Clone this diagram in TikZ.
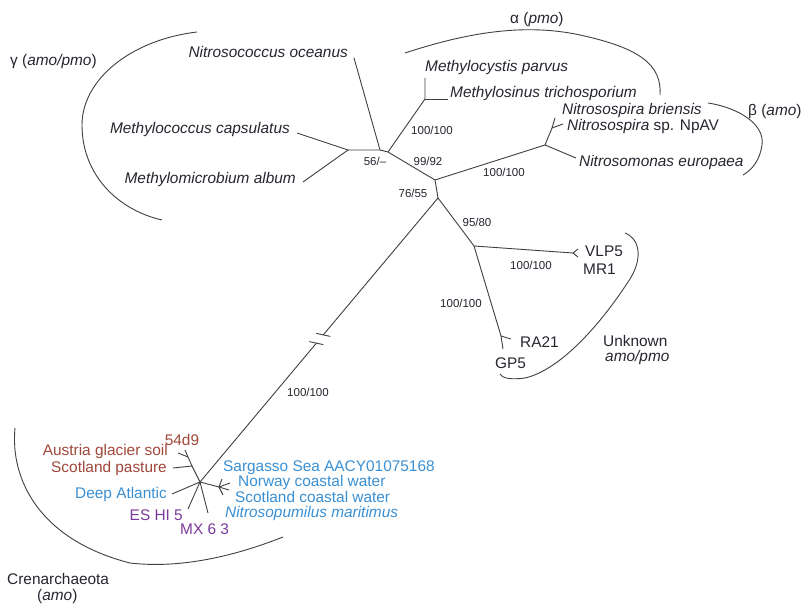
\documentclass[tikz,border=0pt]{standalone}
\usepackage{fontspec}
\setmainfont{Liberation Sans}
\usetikzlibrary{calc}
\definecolor{tc}{HTML}{262630}
\definecolor{lc}{HTML}{404040}
\definecolor{brn}{HTML}{A0483A}
\definecolor{blu}{HTML}{3A90D4}
\definecolor{pur}{HTML}{7A3A9A}
\begin{document}
\begin{tikzpicture}[x=1pt,y=-1pt,
  lbl/.style={font=\fontsize{15.4}{17}\selectfont, inner sep=0pt, text=tc},
  itl/.style={lbl, font=\fontsize{15.4}{17}\selectfont\itshape},
  sup/.style={font=\fontsize{11.5}{13}\selectfont, inner sep=0pt, text=tc},
  branch/.style={draw=lc, line width=0.9pt},
  clade/.style={draw=lc, line width=0.9pt}]
\useasboundingbox[fill=white] (0,0) rectangle (803,604);

% ---------- junctions and leaf ends ----------
\coordinate (g1) at (348,150);
\coordinate (g2) at (380,150);
\coordinate (n1) at (388,152);
\coordinate (a1) at (425,99);
\coordinate (n2) at (435,180);
\coordinate (b1) at (545,145);
\coordinate (bs) at (552,128);
\coordinate (n3) at (438,198);
\coordinate (n4) at (474,246);
\coordinate (v1) at (573,253);
\coordinate (r1) at (501,336);
\coordinate (c0) at (200,482);
\coordinate (cA) at (192,466);
\coordinate (cAu) at (188,457);
\coordinate (cM) at (219,487);

\coordinate (eNo) at (354,58);
\coordinate (eMc) at (297,133);
\coordinate (eMa) at (303,182);
\coordinate (eMp) at (425,78);
\coordinate (eMt) at (448,99);
\coordinate (eNb) at (555,118);
\coordinate (eNp) at (563,124);
\coordinate (eNe) at (576,158);
\coordinate (eV1) at (578,249);
\coordinate (eV2) at (578,257);
\coordinate (eRa) at (511,339);
\coordinate (eGp) at (503,349);
\coordinate (e54) at (185,450);
\coordinate (eAu) at (178,453);
\coordinate (eSp) at (173,468);
\coordinate (eDA) at (172,494);
\coordinate (eES) at (188,509);
\coordinate (eMX) at (208,513);
\coordinate (eM1) at (222,479);
\coordinate (eM2) at (230,483);
\coordinate (eM3) at (229,490);
\coordinate (eM4) at (223,495);

\coordinate (bk1) at ($(n3)!0.482!(c0)$);
\coordinate (bk2) at ($(n3)!0.511!(c0)$);

% ---------- branches ----------
\draw[branch] (eMc) -- (g1) -- (eMa);
\draw[branch] (g1) -- (g2) -- (n1);
\draw[branch] (eNo) -- (g2);
\draw[branch] (n1) -- (a1) -- (eMp);
\draw[branch] (a1) -- (eMt);
\draw[branch] (n1) -- (n2) -- (b1) -- (eNe);
\draw[branch] (b1) -- (bs) -- (eNb);
\draw[branch] (bs) -- (eNp);
\draw[branch] (n2) -- (n3) -- (n4) -- (v1) -- (eV1);
\draw[branch] (v1) -- (eV2);
\draw[branch] (n4) -- (r1) -- (eGp);
\draw[branch] (r1) -- (eRa);
\draw[branch] (n3) -- (bk1);
\draw[branch] (bk2) -- (c0);
\draw[branch] ($(bk1)+(-7,-1.5)$) -- ($(bk1)+(7,1.5)$);
\draw[branch] ($(bk2)+(-7,-1.5)$) -- ($(bk2)+(7,1.5)$);
\draw[branch] (c0) -- (cA) -- (eSp);
\draw[branch] (cA) -- (cAu) -- (e54);
\draw[branch] (cAu) -- (eAu);
\draw[branch] (eDA) -- (c0) -- (eES);
\draw[branch] (c0) -- (eMX);
\draw[branch] (c0) -- (cM);
\draw[branch] (cM) -- (eM1);
\draw[branch] (cM) -- (eM2);
\draw[branch] (cM) -- (eM3);
\draw[branch] (cM) -- (eM4);

% ---------- clade brackets ----------
\draw[clade] (197,32) .. controls (130,40) and (82,80) .. (82,125)
  .. controls (82,175) and (118,210) .. (162,220);
\draw[clade] (405,53) .. controls (460,35) and (520,22) .. (580,35)
  .. controls (640,48) and (662,65) .. (660,95);
\draw[clade] (708,103) .. controls (740,108) and (765,125) .. (762,145)
  .. controls (760,160) and (752,170) .. (743,175);
\draw[clade] (625,233) .. controls (642,240) and (642,262) .. (628,282)
  .. controls (600,325) and (560,370) .. (525,378)
  .. controls (510,380) and (502,378) .. (500,374);
\draw[clade] (15,428) .. controls (10,480) and (40,540) .. (130,563)
  .. controls (190,570) and (250,550) .. (283,537);

% ---------- leaf labels ----------
\node[itl, anchor=east] (tNo) at (348,52) {Nitrosococcus oceanus};
\node[itl, anchor=east] (tMc) at (290,130) {Methylococcus capsulatus};
\node[itl, anchor=east] (tMa) at (296,180) {Methylomicrobium album};
\node[itl, anchor=west] (tMp) at (425,68) {Methylocystis parvus};
\node[itl, anchor=west] (tMt) at (450,94) {Methylosinus trichosporium};
\node[itl, anchor=west] (tNb) at (562,111) {Nitrosospira briensis};
\node[lbl, anchor=west] (tNp) at (567,127) {\itshape Nitrosospira\upshape\ sp. NpAV};
\node[itl, anchor=west] (tNe) at (579,163) {Nitrosomonas europaea};
\node[lbl, anchor=west] (tV) at (585,251) {VLP5};
\node[lbl, anchor=west] (tMR) at (583,269) {MR1};
\node[lbl, anchor=west] (tRA) at (520,342) {RA21};
\node[lbl, anchor=west] (tGP) at (495,363) {GP5};

\node[lbl, anchor=south, text=brn] (t54) at (182,446) {54d9};
\node[lbl, anchor=east, text=brn] (tAu) at (168,452) {Austria glacier soil};
\node[lbl, anchor=east, text=brn] (tSp) at (167,469) {Scotland pasture};
\node[lbl, anchor=east, text=blu] (tDA) at (167,495) {Deep Atlantic};
\node[lbl, anchor=east, text=pur] (tES) at (183,515) {ES HI 5};
\node[lbl, anchor=west, text=pur] (tMX) at (180,529) {MX 6 3};
\node[lbl, anchor=west, text=blu] (tSS) at (223,468) {Sargasso Sea AACY01075168};
\node[lbl, anchor=west, text=blu] (tNW) at (238,483) {Norway coastal water};
\node[lbl, anchor=west, text=blu] (tSC) at (235,497) {Scotland coastal water};
\node[itl, anchor=west, text=blu] (tNM) at (225,514) {Nitrosopumilus maritimus};

% ---------- clade labels ----------
\node[lbl, anchor=west] (cg) at (10,62) {γ (\textit{amo/pmo})};
\node[lbl, anchor=west] (ca) at (510,20) {α (\textit{pmo})};
\node[lbl, anchor=west] (cb) at (748,112) {β (\textit{amo})};
\node[lbl, anchor=west] (cu) at (603,341) {Unknown};
\node[itl, anchor=west] (cu2) at (605,358) {amo/pmo};
\node[lbl, anchor=west] (cc) at (7,579) {Crenarchaeota};
\node[lbl, anchor=west] (cc2) at (37,597) {(\textit{amo})};

% ---------- support values ----------
\node[sup] (s1) at (432,130) {100/100};
\node[sup] (s2) at (375,161) {56/–};
\node[sup] (s3) at (428,161) {99/92};
\node[sup] (s4) at (504,172) {100/100};
\node[sup] (s5) at (413,193) {76/55};
\node[sup] (s6) at (477,222) {95/80};
\node[sup] (s7) at (531,265) {100/100};
\node[sup] (s8) at (461,303) {100/100};
\node[sup] (s9) at (308,392) {100/100};
\end{tikzpicture}
\end{document}
